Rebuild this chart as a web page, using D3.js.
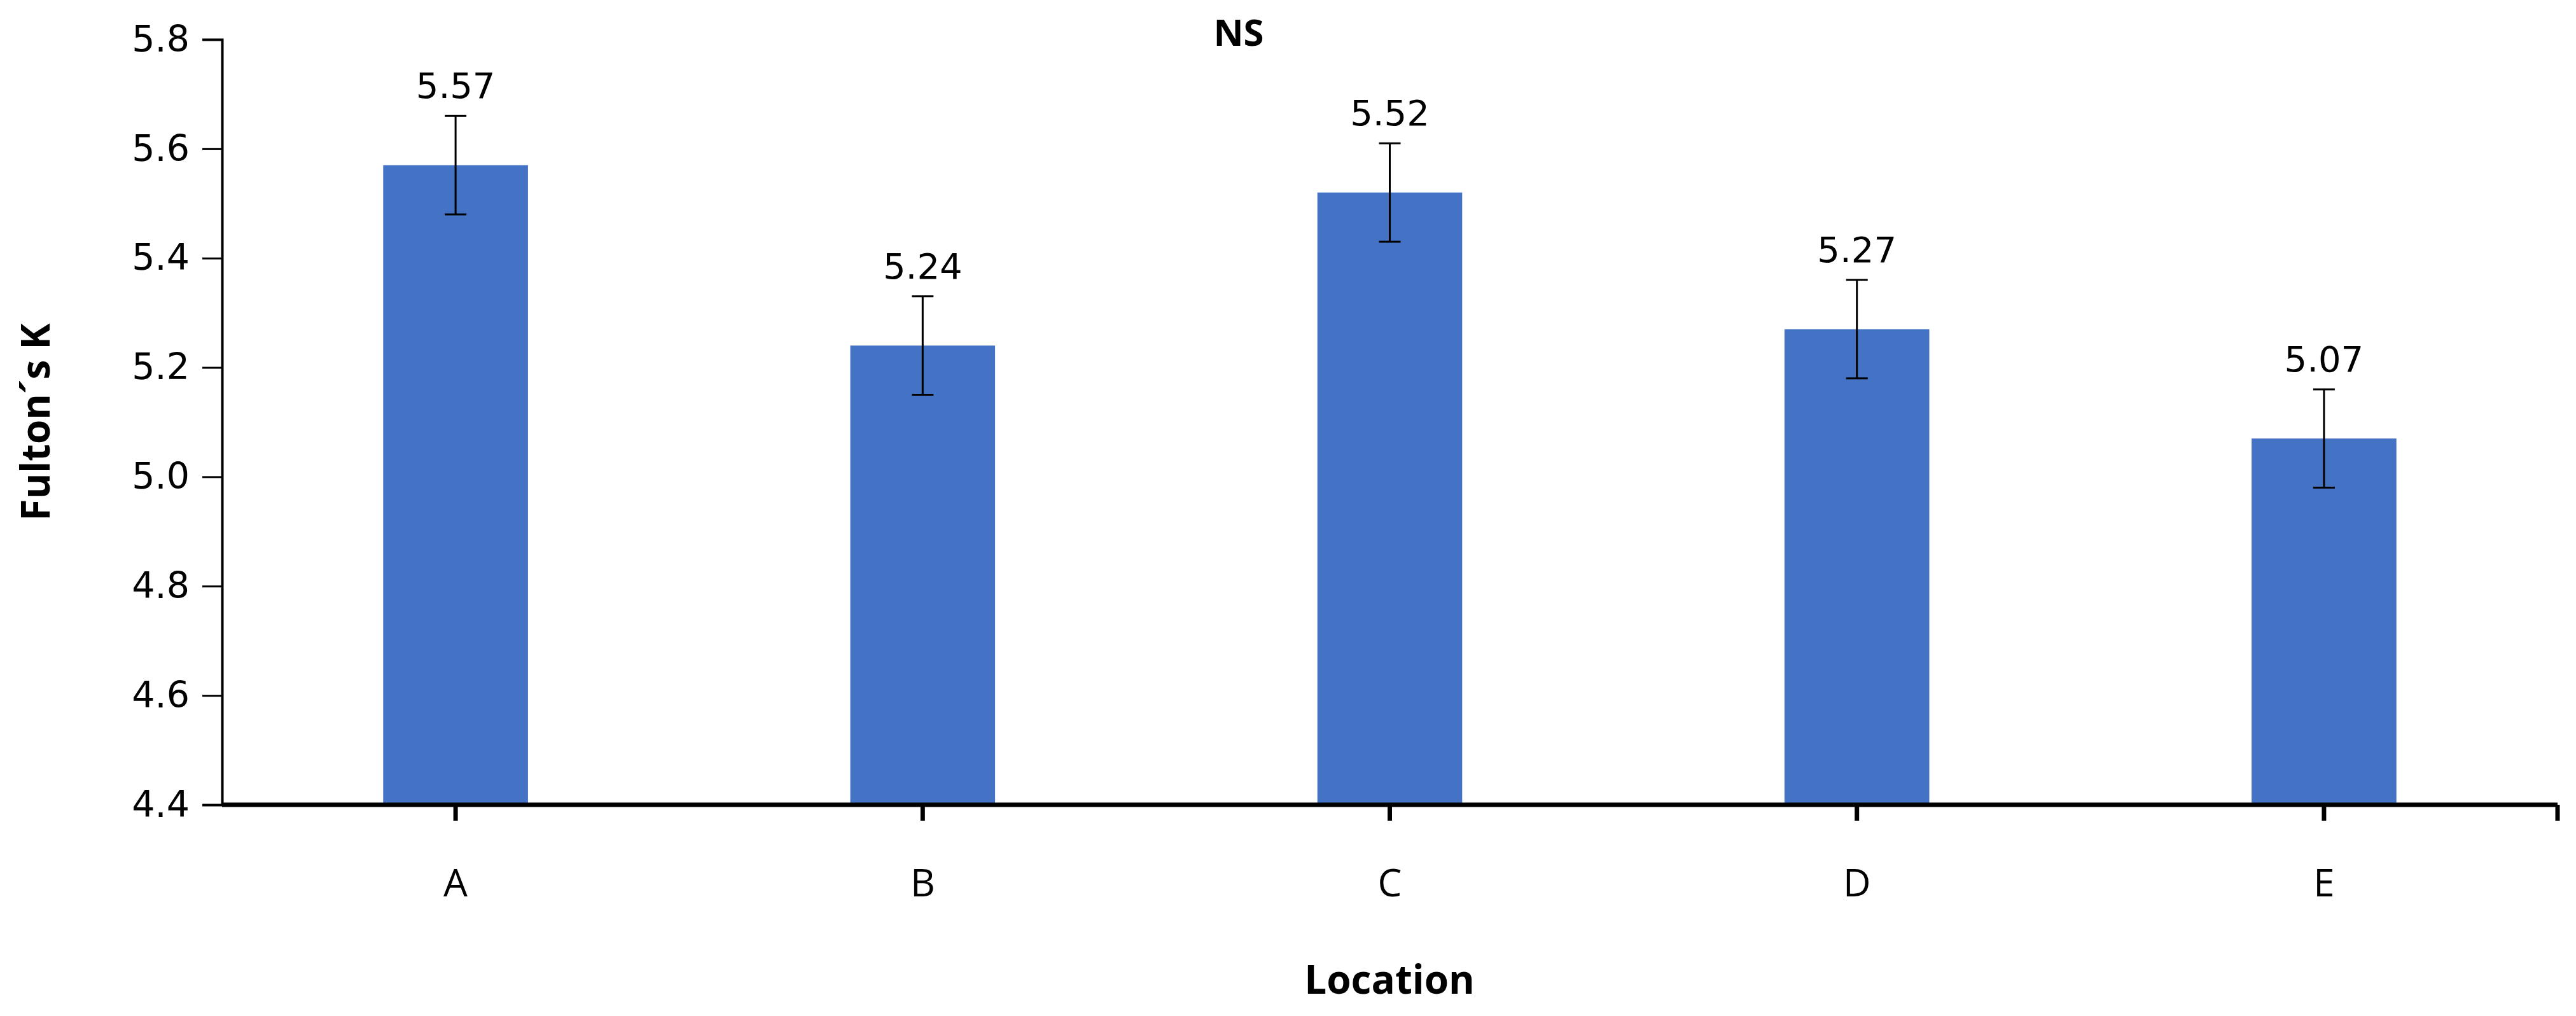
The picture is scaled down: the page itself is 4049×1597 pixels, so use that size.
<!DOCTYPE html>
<html>
<head>
<meta charset="utf-8">
<script src="https://cdn.jsdelivr.net/npm/d3@7"></script>
<style>body{margin:0;background:#fff}</style>
</head>
<body>
<div id="graph"></div>
<script>
// data
const locations = ["A", "B", "C", "D", "E"];
const means = [5.57, 5.24, 5.52, 5.27, 5.07];
const errors = [0.09, 0.09, 0.09, 0.09, 0.09];
const yTicks = [4.4, 4.6, 4.8, 5.0, 5.2, 5.4, 5.6, 5.8];

const W = 4049, H = 1597;
const margin = { top: 62, right: 29, bottom: 332, left: 349 };
const width = W - margin.left - margin.right,
	height = H - margin.top - margin.bottom;

const svg = d3.select("#graph").append("svg")
	.attr("width", W).attr("height", H)
	.style("display", "block");
const g = svg.append("g")
	.attr("transform", "translate(" + margin.left + "," + margin.top + ")");

const x = d3.scaleBand().domain(locations).range([0, width]).paddingInner(0.69).paddingOuter(0.345);
const y = d3.scaleLinear().domain([4.4, 5.8]).range([height, 0]);

// bars
g.selectAll("rect.bar").data(locations).enter().append("rect")
	.attr("x", d => x(d))
	.attr("width", x.bandwidth())
	.attr("y", (d, i) => y(means[i]))
	.attr("height", (d, i) => height - y(means[i]))
	.attr("fill", "#4472c4");

// error bars
const cap = 34;
locations.forEach((d, i) => {
	const cx = x(d) + x.bandwidth() / 2;
	const hi = y(means[i] + errors[i]), lo = y(means[i] - errors[i]);
	g.append("path")
		.attr("d", `M${cx},${hi}V${lo}M${cx - cap / 2},${hi}H${cx + cap / 2}M${cx - cap / 2},${lo}H${cx + cap / 2}`)
		.attr("stroke", "#000").attr("stroke-width", 3).attr("fill", "none");
	g.append("text")
		.attr("x", cx).attr("y", hi - 28)
		.attr("text-anchor", "middle")
		.style("font-family", "DejaVu Sans").style("font-size", "56px")
		.text(means[i].toFixed(2));
});

// y axis
const yAxis = g.append("g").call(d3.axisLeft(y).tickValues(yTicks).tickFormat(d3.format(".1f")).tickSize(31).tickPadding(20));
yAxis.select(".domain").attr("stroke-width", 4);
yAxis.selectAll(".tick line").attr("stroke-width", 3);
yAxis.selectAll("text").style("font-family", "DejaVu Sans").style("font-size", "57px").attr("fill", "#000");

// x axis
const xAxis = g.append("g").attr("transform", "translate(0," + height + ")");
xAxis.append("line").attr("x1", 0).attr("x2", width).attr("stroke", "#000").attr("stroke-width", 7);
const ticks = locations.map(d => x(d) + x.bandwidth() / 2).concat([width]);
xAxis.selectAll("line.t").data(ticks).enter().append("line")
	.attr("x1", d => d).attr("x2", d => d).attr("y1", 0).attr("y2", 25)
	.attr("stroke", "#000").attr("stroke-width", 7);
xAxis.selectAll("text.c").data(locations).enter().append("text")
	.attr("x", d => x(d) + x.bandwidth() / 2).attr("y", 144)
	.attr("text-anchor", "middle")
	.style("font-family", "Open Sans").style("font-size", "60px")
	.text(d => d);

// titles
svg.append("text").attr("x", 2184).attr("y", 1562).attr("text-anchor", "middle")
	.style("font-family", "Open Sans").style("font-weight", "bold").style("font-size", "62px")
	.text("Location");
svg.append("text").attr("transform", "translate(78," + (margin.top + height / 2) + ") rotate(-90)")
	.attr("text-anchor", "middle")
	.style("font-family", "Open Sans").style("font-weight", "bold").style("font-size", "62px")
	.text("Fulton´s K");
svg.append("text").attr("x", 1947).attr("y", 72).attr("text-anchor", "middle")
	.style("font-family", "Open Sans").style("font-weight", "bold").style("font-size", "58px")
	.text("NS");
</script>
</body>
</html>
